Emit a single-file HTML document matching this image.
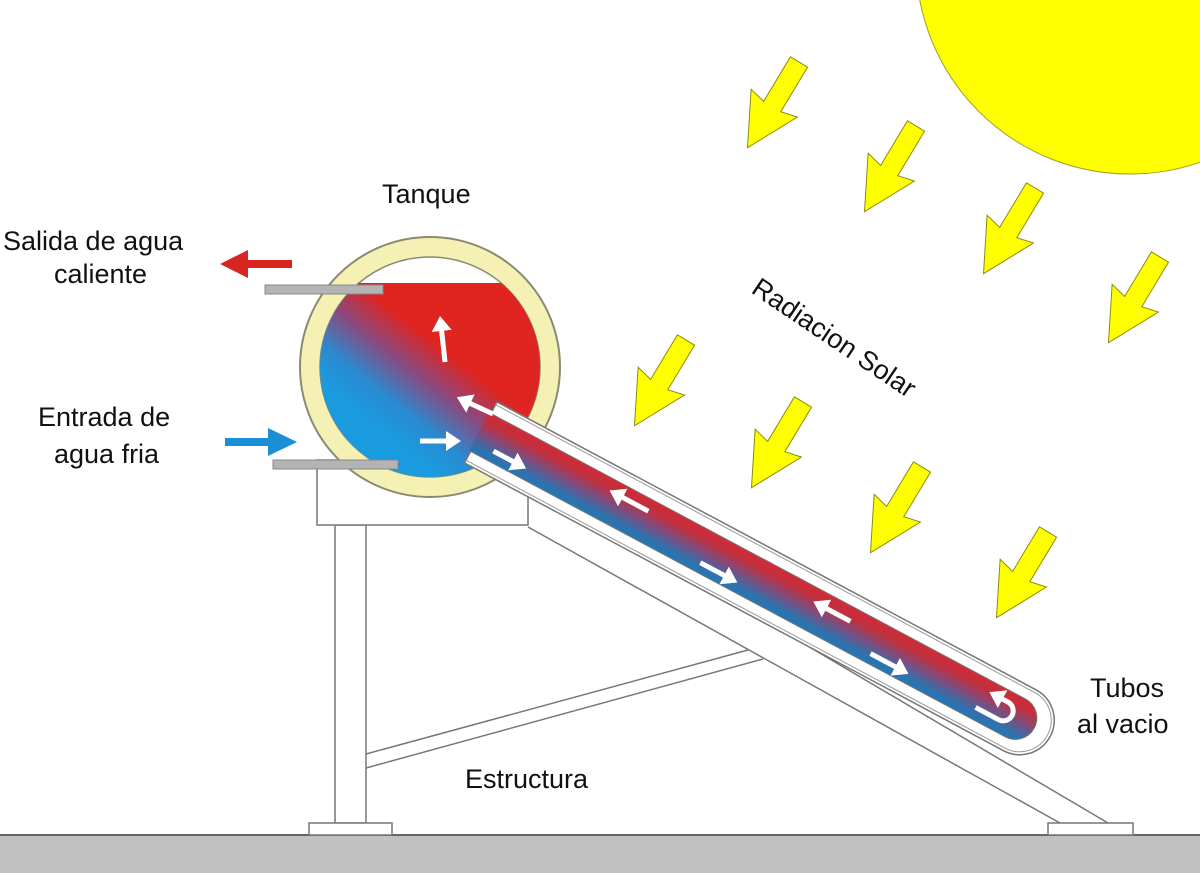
<!DOCTYPE html>
<html><head><meta charset="utf-8"><style>
html,body{margin:0;padding:0;background:#fff}
svg{display:block}
text{font-family:"Liberation Sans",Arial,sans-serif;font-size:27px;fill:#111}
</style></head><body>
<svg width="1200" height="873" viewBox="0 0 1200 873" xmlns="http://www.w3.org/2000/svg">
<defs>
<linearGradient id="tg" gradientUnits="userSpaceOnUse" x1="380" y1="430" x2="455" y2="335">
<stop offset="0" stop-color="#1a9be0"/><stop offset="0.25" stop-color="#2a8ad0"/><stop offset="0.55" stop-color="#8a4a80"/><stop offset="0.85" stop-color="#e0241f"/><stop offset="1" stop-color="#e0241f"/>
</linearGradient>
<linearGradient id="pg" gradientUnits="userSpaceOnUse" x1="0" y1="13" x2="0" y2="56">
<stop offset="0" stop-color="#d22a35"/><stop offset="0.25" stop-color="#c0303f"/><stop offset="0.55" stop-color="#7a4e80"/><stop offset="0.85" stop-color="#2f72ad"/><stop offset="1" stop-color="#2277b8"/>
</linearGradient>
<clipPath id="inner"><circle cx="430" cy="367" r="110"/></clipPath>
<marker id="ah" markerWidth="4" markerHeight="4" refX="1.2" refY="2" orient="auto" markerUnits="strokeWidth">
<path d="M0,0 L3,2 L0,4 Z" fill="#fff"/></marker>
<polygon id="ya" points="-10,0 10,0 10,52 27,48 0,100 -27,48 -10,52" fill="#ffff00" stroke="#8c8c10" stroke-width="1"/>
</defs>

<circle cx="1130" cy="-40" r="214" fill="#ffff00" stroke="#a0a020" stroke-width="1"/>

<rect x="0" y="835" width="1200" height="38" fill="#c2c1c2"/>
<line x1="0" y1="835" x2="1200" y2="835" stroke="#666" stroke-width="2"/>

<g fill="#fff" stroke="#777" stroke-width="1.5">
<rect x="335" y="525" width="31" height="298"/>
<rect x="309" y="823" width="83" height="12"/>
<rect x="1048" y="823" width="85" height="12"/>
<line x1="366" y1="754" x2="748" y2="650"/>
<line x1="366" y1="768" x2="763" y2="659"/>
<line x1="528" y1="527" x2="1060" y2="823"/>
<line x1="560" y1="500" x2="1108" y2="823"/>
<rect x="317" y="460" width="211" height="65"/>
</g>

<circle cx="430" cy="367" r="130" fill="#f5f0b4" stroke="#8a8a70" stroke-width="2"/>
<circle cx="430" cy="367" r="110" fill="#fff" stroke="#8a8a70" stroke-width="1.5"/>
<g clip-path="url(#inner)"><rect x="300" y="283" width="260" height="200" fill="url(#tg)"/></g>

<rect x="265" y="285" width="118" height="9" fill="#b4b4b4" stroke="#888" stroke-width="1"/>
<rect x="273" y="460" width="125" height="9" fill="#b4b4b4" stroke="#888" stroke-width="1"/>

<polygon points="220,264 248,250 248,260 292,260 292,268 248,268 248,278" fill="#d8251f"/>
<polygon points="297,442 268,428 268,438 225,438 225,446 268,446 268,456" fill="#1a8fd6"/>

<g transform="translate(497,402) rotate(28.1)">
<path d="M0,0 L611,0 A34.5,34.5 0 0 1 611,69 L0,69 Z" fill="#fff" stroke="#777" stroke-width="1.5"/>
<path d="M0,3 L611,3 A31.5,31.5 0 0 1 611,66 L0,66" fill="none" stroke="#999" stroke-width="1"/>
<path d="M-2,13 L606,13 A21.5,21.5 0 0 1 606,56 L-2,56 Z" fill="url(#pg)"/>
<path d="M0,13 L606,13 A21.5,21.5 0 0 1 606,56 L0,56" fill="none" stroke="#777" stroke-width="1"/>
<g stroke="#fff" stroke-width="5" fill="none" marker-end="url(#ah)">
<line x1="185" y1="25" x2="150" y2="25"/>
<line x1="415" y1="27" x2="382" y2="27"/>
<line x1="20" y1="45" x2="48" y2="45"/>
<line x1="255" y1="46" x2="288" y2="46"/>
<line x1="448" y1="46" x2="482" y2="46"/>
<path d="M566 44 L592 44 A10 10 0 0 0 592 24 L580 24"/>
</g>
</g>

<g stroke="#fff" stroke-width="5" fill="none" marker-end="url(#ah)">
<line x1="445" y1="362" x2="441" y2="325"/>
<line x1="420" y1="441" x2="452" y2="441"/>
<line x1="493" y1="414" x2="465" y2="401"/>
</g>

<use href="#ya" transform="translate(799,62) rotate(31)"/>
<use href="#ya" transform="translate(916,126) rotate(31)"/>
<use href="#ya" transform="translate(1035,188) rotate(31)"/>
<use href="#ya" transform="translate(1160,257) rotate(31)"/>
<use href="#ya" transform="translate(686,340) rotate(31)"/>
<use href="#ya" transform="translate(803,402) rotate(31)"/>
<use href="#ya" transform="translate(922,467) rotate(31)"/>
<use href="#ya" transform="translate(1048,532) rotate(31)"/>

<text x="382" y="203">Tanque</text>
<text x="3" y="250">Salida de agua</text>
<text x="54" y="283">caliente</text>
<text x="38" y="426">Entrada de</text>
<text x="54" y="463">agua fria</text>
<text x="465" y="788">Estructura</text>
<text x="1090" y="697">Tubos</text>
<text x="1077" y="733">al vacio</text>
<text transform="translate(750,292) rotate(34)">Radiacion Solar</text>
</svg>
</body></html>
